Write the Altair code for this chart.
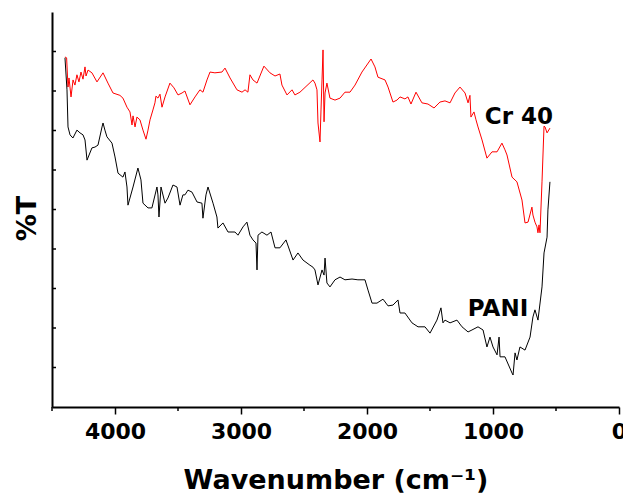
import altair as alt
import pandas as pd

# ---- data (wavenumber in cm-1, %T) ----
cr_wn = [4397, 4384, 4373, 4365, 4349, 4333, 4318, 4302, 4286, 4270, 4254, 4238, 4230, 4214,
         4183, 4143, 4095, 4056, 4016, 3961, 3937, 3905, 3881, 3865, 3857, 3841, 3826, 3802,
         3778, 3754, 3738, 3722, 3699, 3683, 3675, 3659, 3643, 3627, 3603, 3564, 3532, 3500,
         3468, 3445, 3405, 3365, 3326, 3302, 3270, 3246, 3207, 3151, 3127, 3087, 3032, 2992,
         2968, 2945, 2929, 2905, 2873, 2818, 2770, 2730, 2691, 2675, 2635, 2595, 2572, 2532,
         2429, 2413, 2397, 2389, 2373, 2365, 2357, 2349, 2341, 2333, 2318, 2294, 2254, 2214,
         2175, 2135, 2095, 2040, 1968, 1937, 1913, 1857, 1833, 1794, 1762, 1738, 1699, 1675,
         1651, 1611, 1564, 1516, 1468, 1421, 1381, 1341, 1302, 1262, 1222, 1198, 1183, 1175,
         1151, 1135, 1119, 1087, 1048, 1008, 968, 929, 905, 889, 849, 810, 770, 746, 722, 691,
         683, 667, 651, 643, 635, 627, 611, 595, 587, 571, 548]
cr_t = [88.6, 88.4, 81.0, 83.3, 78.5, 82.8, 81.5, 84.1, 82.3, 84.8, 83.0, 86.1, 83.8, 85.3,
        84.6, 82.3, 84.6, 82.0, 79.5, 78.9, 78.2, 75.9, 74.7, 71.4, 73.7, 70.9, 73.4, 72.7,
        70.1, 67.8, 70.1, 72.7, 75.2, 77.0, 78.7, 78.2, 79.2, 75.9, 78.5, 82.0, 80.8, 79.0,
        79.5, 80.0, 76.5, 78.5, 80.3, 79.7, 82.8, 84.8, 84.6, 84.8, 85.8, 83.3, 80.3, 79.7,
        80.3, 79.7, 84.1, 82.8, 82.0, 86.3, 84.6, 83.8, 84.3, 81.5, 79.0, 80.3, 79.0, 79.7,
        82.8, 82.0, 80.3, 71.9, 67.1, 75.2, 82.8, 90.4, 72.2, 79.5, 82.0, 78.2, 77.7, 78.2,
        79.7, 79.7, 81.5, 84.8, 88.1, 86.1, 83.5, 82.8, 81.0, 77.2, 77.7, 78.5, 78.0, 78.5,
        76.7, 79.7, 77.0, 76.7, 75.7, 77.2, 77.5, 77.0, 79.5, 81.0, 79.5, 77.0, 78.9, 73.4,
        74.7, 72.7, 70.9, 67.6, 63.0, 64.6, 64.6, 66.8, 65.1, 63.8, 58.2, 57.0, 52.4, 46.6,
        46.8, 50.6, 48.6, 46.8, 45.6, 44.1, 46.1, 44.1, 57.0, 71.1, 70.9, 69.4, 70.6]

pani_wn = [4397, 4381, 4373, 4357, 4334, 4302, 4278, 4254, 4238, 4222, 4183, 4159, 4135, 4103,
           4095, 4080, 4064, 4024, 4000, 3976, 3937, 3921, 3905, 3897, 3857, 3818, 3794, 3778,
           3738, 3707, 3667, 3659, 3651, 3635, 3603, 3580, 3540, 3508, 3484, 3461, 3445, 3421,
           3389, 3349, 3310, 3302, 3278, 3262, 3222, 3191, 3183, 3143, 3103, 3048, 3024, 2984,
           2953, 2929, 2905, 2881, 2873, 2865, 2834, 2794, 2762, 2730, 2691, 2643, 2587, 2548,
           2508, 2453, 2429, 2413, 2389, 2357, 2341, 2333, 2318, 2294, 2254, 2214, 2175, 2119,
           2072, 2016, 1992, 1960, 1921, 1873, 1833, 1794, 1754, 1738, 1699, 1643, 1595, 1540,
           1500, 1445, 1413, 1397, 1381, 1341, 1286, 1246, 1198, 1167, 1119, 1079, 1048, 1024,
           1000, 968, 952, 944, 905, 849, 841, 825, 810, 786, 746, 706, 683, 667, 643, 611, 595,
           571, 564, 548]
pani_t = [88.4, 80.3, 70.9, 68.9, 68.1, 70.1, 69.4, 68.9, 67.6, 62.5, 65.6, 65.8, 66.3, 70.9,
          71.9, 70.1, 68.4, 66.8, 63.3, 59.2, 58.2, 59.5, 55.7, 51.1, 55.7, 60.5, 57.5, 51.6,
          50.4, 50.4, 55.7, 53.7, 48.1, 55.7, 51.6, 52.9, 56.2, 55.7, 51.1, 53.7, 53.7, 54.9,
          54.4, 51.9, 51.6, 47.8, 53.7, 55.7, 51.6, 48.1, 45.3, 46.6, 44.3, 44.3, 43.5, 45.6,
          46.8, 43.5, 42.3, 41.5, 34.7, 43.5, 44.3, 43.5, 44.3, 40.3, 40.3, 42.3, 37.2, 39.0,
          37.2, 35.9, 35.4, 34.7, 30.9, 34.7, 33.4, 37.7, 31.4, 30.4, 32.2, 32.9, 32.2, 32.4,
          32.2, 32.2, 29.6, 26.3, 26.3, 27.3, 25.6, 25.8, 27.1, 23.8, 23.8, 21.3, 20.3, 20.3,
          18.7, 22.0, 25.1, 21.3, 22.0, 21.3, 22.0, 20.3, 19.0, 19.5, 20.3, 19.5, 15.2, 17.7,
          15.2, 13.2, 17.7, 12.7, 12.7, 8.6, 8.1, 13.7, 11.9, 15.2, 14.4, 17.7, 22.8, 24.6,
          22.0, 30.4, 39.0, 43.0, 49.9, 57.0]

series_names = ["Cr 40", "PANI"]
series_colors = ["#ff0000", "#000000"]

label_text = ["Cr 40", "PANI"]
label_wn = [794, 960]
label_t = [73.4, 24.8]

x_major = [4000, 3000, 2000, 1000, 0]
x_minor = [4500, 3500, 2500, 1500, 500]
y_ticks = [10, 20, 30, 40, 50, 60, 70, 80, 90]

# ---- build ----
df = pd.concat([
    pd.DataFrame({"wn": cr_wn, "T": cr_t, "s": series_names[0]}),
    pd.DataFrame({"wn": pani_wn, "T": pani_t, "s": series_names[1]}),
], ignore_index=True)

W, H = 567, 395
FONT = "DejaVu Sans"
xscale = alt.Scale(domain=[0, 4500], reverse=True, nice=False, zero=False)
yscale = alt.Scale(domain=[0, 100], nice=False)

lines = alt.Chart(df).mark_line(strokeWidth=1).encode(
    x=alt.X("wn:Q", scale=xscale, axis=alt.Axis(
        values=x_major, format="d", title="Wavenumber (cm⁻¹)", grid=False,
        domainColor="black", domainWidth=2, tickColor="black", tickWidth=1.5, tickSize=7,
        labelFont=FONT, labelFontWeight="bold", labelFontSize=22, labelColor="black",
        labelBaseline="alphabetic", labelPadding=24, labelFlush=False, labelOverlap=False,
        labelBound=False,
        titleFont=FONT, titleFontWeight="bold", titleFontSize=27, titleColor="black",
        titleBaseline="alphabetic", titleY=81, titleX=W / 2, titleAlign="center")),
    y=alt.Y("T:Q", scale=yscale, axis=alt.Axis(
        labels=False, ticks=False, grid=False, domainColor="black", domainWidth=2,
        title="%T", titleFont=FONT, titleFontWeight="bold", titleFontSize=27,
        titleColor="black", titleAngle=270, titleX=-17, titleY=206, titleAlign="center",
        titleBaseline="alphabetic")),
    color=alt.Color("s:N", scale=alt.Scale(domain=series_names, range=series_colors), legend=None),
)

ytick_layer = alt.Chart(pd.DataFrame({"T": y_ticks})).mark_rule(
    color="black", strokeWidth=1.5).encode(
    y=alt.Y("T:Q", scale=yscale), x=alt.value(0), x2=alt.value(4))

xminor_layer = alt.Chart(pd.DataFrame({"wn": x_minor})).mark_rule(
    color="black", strokeWidth=1.5).encode(
    x=alt.X("wn:Q", scale=xscale), y=alt.value(H), y2=alt.value(H + 4))

labels = alt.Chart(pd.DataFrame({"wn": label_wn, "T": label_t, "txt": label_text})).mark_text(
    font=FONT, fontWeight="bold", fontSize=23, align="center", baseline="middle",
    color="black").encode(
    x=alt.X("wn:Q", scale=xscale), y=alt.Y("T:Q", scale=yscale), text="txt:N")

chart = alt.layer(lines, ytick_layer, xminor_layer, labels).properties(
    width=W, height=H,
    autosize=alt.AutoSizeParams(type="none"),
    padding={"left": 52, "top": 12, "right": 4, "bottom": 86},
).configure_view(stroke=None)

chart.save("out.html", embed_options={"renderer": "svg", "actions": False})
